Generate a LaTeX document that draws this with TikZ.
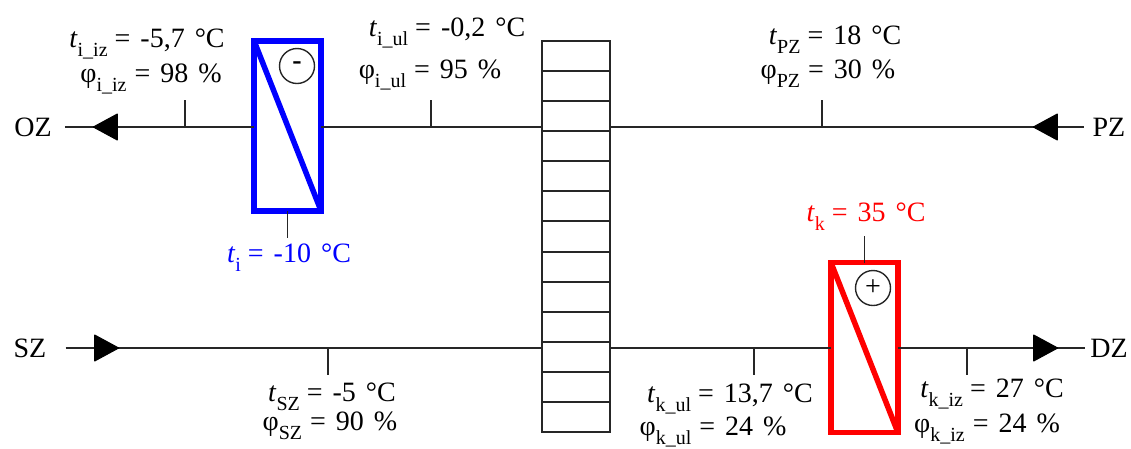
\documentclass[tikz,border=0pt]{standalone}
\usepackage{fontspec}
\setmainfont{Liberation Serif}
\usepackage{tikz}
\usetikzlibrary{shapes.geometric}

\newcommand{\tval}[2]{\textit{t}\raisebox{-9pt}{\fontsize{20}{20}\selectfont #1}\hspace{7pt}{\spaceskip=10pt #2}}
\newcommand{\phival}[2]{φ\raisebox{-9pt}{\fontsize{20}{20}\selectfont #1}\hspace{8pt}{\spaceskip=10pt #2}}

\begin{document}
\begin{tikzpicture}[
  x=1pt, y=-1pt,
  every node/.style={font=\fontsize{28}{32}\selectfont},
  val/.style={anchor=base, inner sep=0pt},
  duct/.style={draw=black!85, line width=1.6pt},
  tick/.style={draw=black!85, line width=1.5pt},
  coil/.style={draw, line width=5.5pt, minimum width=67pt, minimum height=170pt, inner sep=0pt, outer sep=0pt},
  sign/.style={draw=black!85, circle, line width=1.4pt, minimum size=35pt, inner sep=0pt},
  flow/.style={isosceles triangle, isosceles triangle stretches, fill=black, draw=black, line join=round, line width=1pt, minimum width=26pt, minimum height=24pt, inner sep=0pt, anchor=apex}
]
  \useasboundingbox (0,0) rectangle (1131,448);

  % Port labels
  \node[inner xsep=13pt] (oz) at (33,127) {OZ};
  \node[inner xsep=8pt] (pz) at (1109,127) {PZ};
  \node[inner xsep=19pt] (sz) at (30,348) {SZ};
  \node[inner xsep=5pt] (dz) at (1109,348) {DZ};

  % Heat recovery block
  \node[draw=black!85, line width=1.5pt, minimum width=68pt, minimum height=391pt, inner sep=0pt, outer sep=0pt] (rec) at (576,236.5) {};
  \foreach \row in {71,101,131,161,191,221,252,282,312,342,372,402} {
    \draw[tick] (rec.west |- 0,\row) -- (rec.east |- 0,\row);
  }

  % Cooler and heater
  \node[coil, draw=blue] (cool) at (287.7,126.2) {};
  \draw[blue, line width=5.5pt] (cool.north west) -- (cool.south east);
  \node[sign] (minus) at (297,66) {\textbf{-}};
  \node[coil, draw=red] (heat) at (864.5,347.7) {};
  \draw[red, line width=5.5pt] (heat.north west) -- (heat.south east);
  \node[sign] (plus) at (873,288) {+};

  % Ducts
  \draw[duct] (oz.east) -- (cool.west |- oz);
  \draw[duct] (cool.east |- oz) -- (rec.west |- oz);
  \draw[duct] (rec.east |- oz) -- (pz.west);
  \draw[duct] (sz.east) -- (rec.west |- sz);
  \draw[duct] (rec.east |- sz) -- (heat.west |- sz);
  \draw[duct] (heat.east |- sz) -- (dz.west);

  % Flow direction
  \node[flow, shape border rotate=180] (fa) at (92,127) {};
  \node[flow, shape border rotate=180] (fb) at (1032,127) {};
  \node[flow] (fc) at (120,348) {};
  \node[flow] (fd) at (1059,348) {};

  % Measuring points
  \coordinate (pa) at (185,127);
  \coordinate (pb) at (431,127);
  \coordinate (pc) at (822,127);
  \coordinate (pd) at (328,348);
  \coordinate (pe) at (754,348);
  \coordinate (pf) at (967,348);
  \coordinate (pg) at (287.7,238);
  \coordinate (ph) at (864.5,236);
  \draw[tick] (pa) -- ++(0,-27);
  \draw[tick] (pb) -- ++(0,-27);
  \draw[tick] (pc) -- ++(0,-27);
  \draw[tick] (pd) -- ++(0,27);
  \draw[tick] (pe) -- ++(0,27);
  \draw[tick] (pf) -- ++(0,27);
  \draw[tick] (pg |- cool.south) -- (pg);
  \draw[tick] (ph) -- (ph |- heat.north);

  % Values
  \node[val] (tiiz) at (147,47) {\tval{i\_iz}{= -5,7 °C}};
  \node[val] (piiz) at (151,82) {\phival{i\_iz}{= 98 \%}};
  \node[val] (tiul) at (447,36) {\tval{i\_ul}{= -0,2 °C}};
  \node[val] (piul) at (430,78) {\phival{i\_ul}{= 95 \%}};
  \node[val] (tpz) at (835,44) {\tval{PZ}{= 18 °C}};
  \node[val] (ppz) at (828,78) {\phival{PZ}{= 30 \%}};
  \node[val, text=blue] (ti) at (289,262) {\tval{i}{= -10 °C}};
  \node[val, text=red] (tk) at (866,221) {\tval{k}{= 35 °C}};
  \node[val] (tsz) at (332,401) {\tval{SZ}{= -5 °C}};
  \node[val] (psz) at (330,430) {\phival{SZ}{= 90 \%}};
  \node[val] (tkul) at (730,402) {\tval{k\_ul}{= 13,7 °C}};
  \node[val] (pkul) at (713,435) {\phival{k\_ul}{= 24 \%}};
  \node[val] (tkiz) at (992,397) {\tval{k\_iz}{= 27 °C}};
  \node[val] (pkiz) at (987,432) {\phival{k\_iz}{= 24 \%}};
\end{tikzpicture}
\end{document}
